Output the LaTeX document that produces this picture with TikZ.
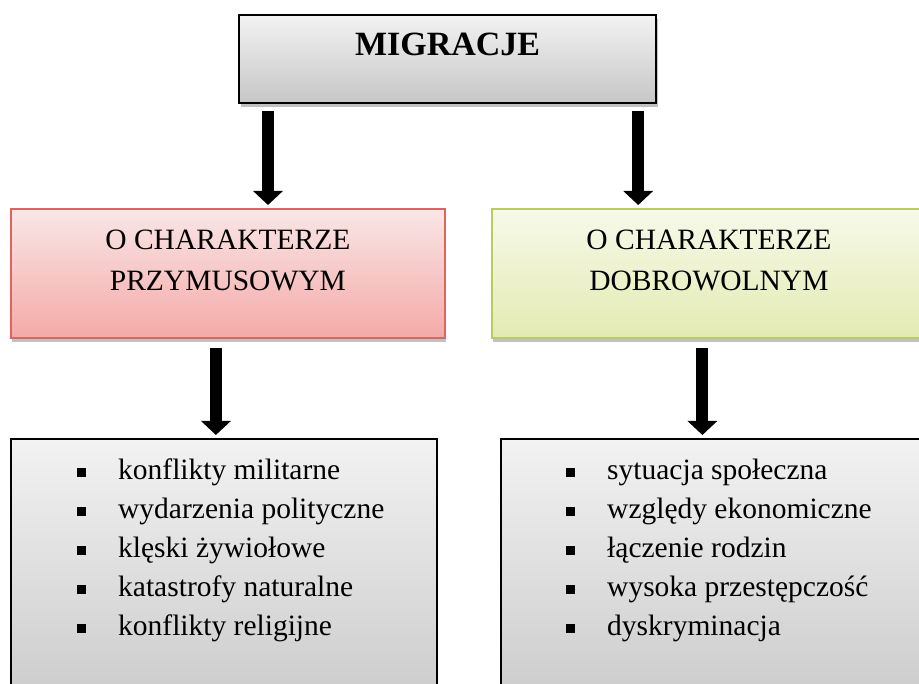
\documentclass[tikz,border=0pt]{standalone}
\usepackage{fontspec}
\setmainfont{Liberation Serif}
\usetikzlibrary{arrows.meta,shadows}

\definecolor{redline}{HTML}{DE6461}
\definecolor{redtop}{HTML}{F9E6E6}
\definecolor{redbot}{HTML}{F4AAA8}
\definecolor{greenline}{HTML}{BBCC5E}
\definecolor{greentop}{HTML}{F7F9EA}
\definecolor{greenbot}{HTML}{E3EBB2}
\definecolor{greytop}{HTML}{F2F2F2}
\definecolor{greybot}{HTML}{C6C6C6}

\newcommand{\sqbul}{\makebox[41.5pt][l]{\rule[2.7pt]{9pt}{9pt}}}

\tikzset{
  panel/.style={anchor=north west, inner sep=0pt},
  boxshadow/.style={drop shadow={shadow xshift=1.5pt, shadow yshift=-4pt, fill=black!30, opacity=.8}},
  greybox/.style={panel, draw=black, line width=2.2pt, top color=greytop, bottom color=greybot},
  redbox/.style={panel, boxshadow, draw=redline, line width=1.8pt, top color=redtop, bottom color=redbot},
  greenbox/.style={panel, boxshadow, draw=greenline, line width=1.8pt, top color=greentop, bottom color=greenbot},
  bigarrow/.style={line width=12pt, -{Triangle[width=29pt,length=14pt]}, shorten >=3pt},
  txt/.style={font=\fontsize{29.5pt}{41pt}\selectfont, inner sep=0pt}
}

\begin{document}
\begin{tikzpicture}[x=1pt,y=-1pt]
  \clip (0,0) rectangle (919,684);
  % Top box
  \node[greybox, boxshadow, minimum width=417pt, minimum height=88pt] (mig) at (238,14) {};
  \node[anchor=base, inner sep=0pt, font=\fontsize{34pt}{38pt}\selectfont\bfseries] (migtxt)
    at ([yshift=-42pt]mig.north) {MIGRACJE};
  % Middle boxes
  \node[redbox, minimum width=434pt, minimum height=129pt] (red) at (10,208) {};
  \node[greenbox, minimum width=434pt, minimum height=129pt] (green) at (491,208) {};
  \node[txt, anchor=north, align=center] (redtxt) at ([yshift=-22pt]red.north)
    {O CHARAKTERZE\\PRZYMUSOWYM};
  \node[txt, anchor=north, align=center] (greentxt) at ([yshift=-22pt]green.north)
    {O CHARAKTERZE\\DOBROWOLNYM};
  % Bottom boxes
  \node[greybox, minimum width=426pt, minimum height=300pt] (lista) at (10,438) {};
  \node[greybox, minimum width=426pt, minimum height=300pt] (listb) at (500,438) {};
  % List items
  \foreach \t [count=\i] in {konflikty militarne, wydarzenia polityczne,
      klęski żywiołowe, katastrofy naturalne, konflikty religijne}
    \node[txt, anchor=base west] (la-\i) at (76.5,441.2+38.8*\i) {\sqbul\t};
  \foreach \t [count=\i] in {sytuacja społeczna, względy ekonomiczne,
      łączenie rodzin, wysoka przestępczość, dyskryminacja}
    \node[txt, anchor=base west] (lb-\i) at (565.5,441.2+38.8*\i) {\sqbul\t};
  % Arrows
  \coordinate (a1) at ([xshift=30pt,yshift=-7pt]mig.south west);
  \coordinate (a2) at ([xshift=-19pt,yshift=-7pt]mig.south east);
  \coordinate (a3) at ([xshift=-12pt,yshift=-9pt]red.south);
  \coordinate (a4) at ([xshift=-6.5pt,yshift=-9pt]green.south);
  \draw[bigarrow] (a1) -- (a1 |- red.north);
  \draw[bigarrow] (a2) -- (a2 |- green.north);
  \draw[bigarrow] (a3) -- (a3 |- lista.north);
  \draw[bigarrow] (a4) -- (a4 |- listb.north);
\end{tikzpicture}
\end{document}
